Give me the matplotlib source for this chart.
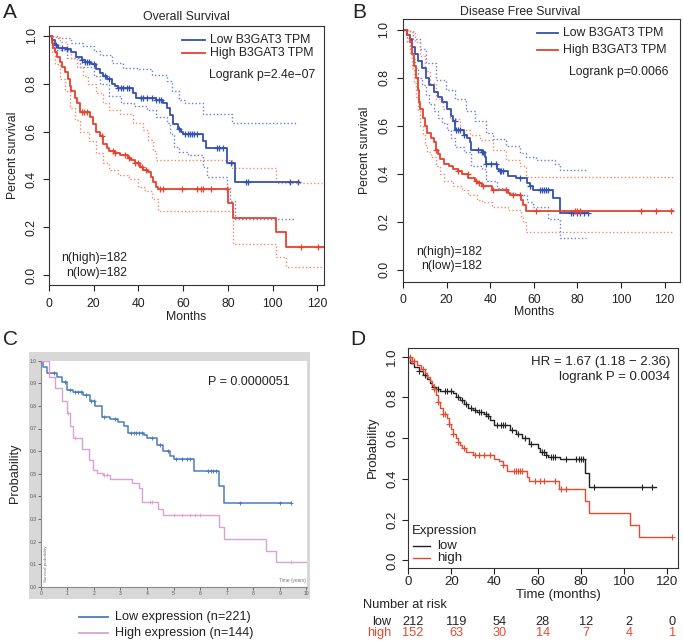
import numpy as np
import matplotlib
matplotlib.use("Agg")
import matplotlib.pyplot as plt
from matplotlib.lines import Line2D
from matplotlib.patches import Rectangle

plt.rcParams['font.family'] = ['Liberation Sans', 'DejaVu Sans']

W, H = 683, 643

# ---------------- A: Overall survival (months) ----------------
a_low_t = [0, 1.2, 2.7, 4, 8, 10, 12, 14.6, 16, 19, 21, 23, 24, 26, 28, 29.5, 31, 37.7, 39, 48, 51, 53,
           54, 55.5, 57.8, 59, 60, 69, 70.4, 79.6, 83]
a_low_s = [1.0, 0.98, 0.96, 0.95, 0.945, 0.93, 0.91, 0.90, 0.89, 0.88, 0.86, 0.845, 0.83, 0.82, 0.80, 0.79,
           0.78, 0.76, 0.74, 0.73, 0.72, 0.70, 0.67, 0.63, 0.61, 0.60, 0.59, 0.56, 0.53, 0.47, 0.39]
a_low_end = 112
a_low_cens = [3, 6, 8, 14.6, 16, 17, 18, 20, 25, 27, 31, 32, 33, 35, 36, 41, 42, 44, 46, 48, 49, 50, 58,
              61, 62, 63, 64, 65, 66, 75, 76, 78, 81.6, 88.3, 89, 107.6, 111.4]
a_low_hi_t = [0, 4, 10, 15, 20, 23, 28, 33, 40, 46, 53, 55, 58, 61, 69, 82]
a_low_hi_s = [1.0, 0.99, 0.97, 0.955, 0.935, 0.92, 0.885, 0.864, 0.86, 0.836, 0.81, 0.77, 0.73, 0.717,
              0.675, 0.634]
a_low_lo_t = [0, 1.2, 2.7, 8, 14, 20, 23, 27, 32, 38, 44, 48, 53, 54, 56, 58, 62, 69, 70.5, 79.5, 81, 83]
a_low_lo_s = [1.0, 0.97, 0.94, 0.905, 0.87, 0.83, 0.80, 0.75, 0.717, 0.706, 0.69, 0.66, 0.634, 0.59,
              0.536, 0.515, 0.50, 0.45, 0.41, 0.37, 0.31, 0.237]

a_high_t = [0, 1.2, 2, 2.7, 3.5, 5, 6, 7, 8.6, 9.4, 10, 11.6, 12.4, 13.8, 18.3, 19.8, 21, 22.8, 24, 25.8,
            27, 29.5, 31.7, 35.4, 36.8, 38.4, 40.6, 42, 44.4, 45.8, 46.6, 48, 48.8, 80.1, 82.3, 101.7, 105.9]
a_high_s = [1.0, 0.97, 0.95, 0.93, 0.91, 0.89, 0.87, 0.85, 0.82, 0.79, 0.77, 0.74, 0.72, 0.68, 0.66, 0.63,
            0.60, 0.58, 0.55, 0.53, 0.52, 0.51, 0.50, 0.49, 0.48, 0.47, 0.45, 0.44, 0.43, 0.41, 0.39, 0.37,
            0.36, 0.30, 0.24, 0.18, 0.12]
a_high_end = 123
a_high_cens = [14.6, 15.5, 16.8, 23.5, 28.7, 29.5, 34, 36, 38.5, 40, 41.5, 43.6, 49.5, 51, 59.3, 66, 68,
               69, 72.6, 79.4, 112.8, 120.3]
a_high_hi_t = [0, 2, 5, 8, 10, 12.4, 15.3, 17.6, 21, 24, 27, 31.7, 37.7, 42, 44.4, 46.6, 48, 82, 101.7]
a_high_hi_s = [1.0, 0.995, 0.975, 0.94, 0.905, 0.87, 0.83, 0.80, 0.76, 0.717, 0.69, 0.675, 0.634, 0.606,
               0.564, 0.52, 0.48, 0.446, 0.386]
a_high_lo_t = [0, 1.2, 2.7, 5, 7, 9.4, 11.6, 13.8, 18, 21, 24, 27, 31, 36, 40, 43, 46, 48.8, 82.3, 101.7,
               105.9]
a_high_lo_s = [1.0, 0.93, 0.88, 0.82, 0.77, 0.70, 0.65, 0.60, 0.56, 0.51, 0.47, 0.44, 0.42, 0.40, 0.37,
               0.35, 0.32, 0.27, 0.13, 0.077, 0.035]

# ---------------- B: Disease free survival (months) ----------------
b_low_t = [0, 2, 3, 4, 5.5, 7, 8.5, 10.5, 12, 14, 16, 18, 20, 22, 23, 24, 28, 29.5, 30.5, 31, 36, 37.5,
           38, 43, 44, 48, 52, 57, 58, 59.5, 68.8, 72]
b_low_s = [1.0, 0.98, 0.96, 0.93, 0.90, 0.87, 0.84, 0.80, 0.77, 0.74, 0.72, 0.70, 0.67, 0.64, 0.62, 0.58,
           0.56, 0.55, 0.53, 0.50, 0.49, 0.47, 0.44, 0.42, 0.41, 0.39, 0.38, 0.36, 0.35, 0.33, 0.30, 0.235]
b_low_end = 85
b_low_cens = [23.7, 24.5, 25.3, 26, 28, 34.4, 36, 36.7, 38.2, 40.5, 42.8, 44.3, 45, 45.9, 53.5, 58, 62.7,
              63.5, 64.5, 65.5, 66.5, 77, 78, 80, 81, 82.8, 84.9]
b_low_hi_t = [0, 2.3, 4.6, 7.6, 10.7, 15.3, 19.9, 23.7, 29, 32.9, 38.2, 41.3, 47.4, 53.5, 56.6, 61.2,
              69.6, 72]
b_low_hi_s = [1.0, 0.996, 0.96, 0.92, 0.86, 0.79, 0.75, 0.71, 0.66, 0.62, 0.57, 0.545, 0.514, 0.486, 0.47,
              0.458, 0.44, 0.416]
b_low_lo_t = [0, 2, 3, 4, 5.5, 7, 8.5, 10.5, 12, 14, 16, 18, 20, 22, 24, 28, 31, 36, 38, 43, 48, 52, 57,
              59.5, 66.5, 72]
b_low_lo_s = [1.0, 0.95, 0.92, 0.88, 0.84, 0.80, 0.77, 0.73, 0.69, 0.66, 0.63, 0.61, 0.58, 0.55, 0.51,
              0.49, 0.43, 0.42, 0.37, 0.34, 0.32, 0.31, 0.28, 0.26, 0.21, 0.13]

b_high_t = [0, 2, 3, 4, 5, 6, 7, 7.5, 8, 9, 10, 11, 13, 14, 15, 16, 17, 19, 21, 23, 25, 27, 30, 33, 34,
            36, 41, 48, 49, 54, 55, 56.5]
b_high_s = [1.0, 0.98, 0.95, 0.90, 0.85, 0.80, 0.75, 0.70, 0.67, 0.63, 0.60, 0.57, 0.55, 0.53, 0.50, 0.48,
            0.46, 0.44, 0.43, 0.42, 0.41, 0.40, 0.38, 0.37, 0.36, 0.35, 0.33, 0.32, 0.31, 0.29, 0.27, 0.245]
b_high_end = 124
b_high_cens = [15.3, 25.2, 29.8, 33.6, 35, 36.7, 41.3, 47.4, 50.5, 53.5, 61.2, 78.7, 80, 81, 109.3,
               116.2, 123]
b_high_hi_t = [0, 3, 5.4, 7.6, 10, 12.2, 15.3, 18.3, 21.4, 26, 30.6, 35.2, 41.3, 47.4, 53.5, 56.6]
b_high_hi_s = [1.0, 0.99, 0.947, 0.89, 0.83, 0.78, 0.71, 0.67, 0.626, 0.584, 0.563, 0.542, 0.50, 0.458,
               0.43, 0.388]
b_high_lo_t = [0, 2, 3, 4, 5, 6, 7, 8, 9, 10, 11, 13, 15, 17, 19, 23, 27, 30, 34, 36, 41, 48, 54, 55,
               56.5]
b_high_lo_s = [1.0, 0.95, 0.90, 0.84, 0.78, 0.72, 0.66, 0.60, 0.56, 0.52, 0.49, 0.47, 0.43, 0.40, 0.37,
               0.35, 0.33, 0.31, 0.29, 0.28, 0.26, 0.25, 0.22, 0.20, 0.155]

# ---------------- C: survival probability (years) ----------------
c_low_t = [0, 0.1, 0.23, 0.6, 0.8, 1.0, 1.23, 1.6, 1.86, 2.05, 2.3, 2.6, 2.9, 3.14, 3.3, 3.87, 4.0, 4.37,
           4.6, 4.87, 5.0, 5.78, 6.7, 6.88]
c_low_s = [1.0, 0.97, 0.944, 0.926, 0.907, 0.87, 0.863, 0.85, 0.82, 0.80, 0.75, 0.74, 0.73, 0.71, 0.68,
           0.67, 0.656, 0.627, 0.60, 0.58, 0.563, 0.51, 0.445, 0.37]
c_low_end = 9.4
c_low_cens = [0.3, 0.5, 0.9, 1.1, 1.3, 1.4, 1.5, 1.7, 1.9, 2.0, 2.4, 2.8, 3.4, 3.5, 3.6, 3.7, 3.8, 4.2,
              4.5, 4.8, 5.1, 5.3, 5.5, 5.6, 6.3, 6.4, 6.5, 6.6, 7.5, 9.0, 9.4]
c_high_t = [0, 0.3, 0.54, 0.8, 1.0, 1.1, 1.23, 1.54, 1.8, 1.98, 2.1, 2.36, 2.6, 3.43, 3.7, 3.8, 4.43,
            4.62, 6.7, 6.9, 8.48, 8.87]
c_high_s = [1.0, 0.93, 0.88, 0.82, 0.77, 0.71, 0.66, 0.61, 0.56, 0.516, 0.505, 0.494, 0.475, 0.457, 0.438,
            0.376, 0.344, 0.317, 0.265, 0.21, 0.16, 0.11]
c_high_end = 10
c_high_cens = [1.02, 1.3, 2.4, 2.5, 4.1, 4.2, 5.0, 5.3, 5.6, 5.8, 6.0, 9.4]
c_labels = ['Low expression (n=221)', 'High expression (n=144)']

# ---------------- D: KM plotter (months) ----------------
d_low_t = [0, 1, 3, 5, 7, 9, 10, 11, 13, 15, 21, 22, 24, 26, 28, 30, 32, 35, 37, 38, 40, 47, 50, 53, 56,
           60, 61, 64, 65, 70.5, 82, 83.7]
d_low_s = [1.0, 0.97, 0.95, 0.93, 0.91, 0.89, 0.87, 0.85, 0.84, 0.83, 0.82, 0.80, 0.79, 0.77, 0.75, 0.74,
           0.73, 0.72, 0.71, 0.69, 0.665, 0.64, 0.62, 0.60, 0.57, 0.55, 0.53, 0.52, 0.51, 0.50, 0.43, 0.36]
d_low_end = 115
d_low_cens = [5, 8, 12, 14, 17, 18, 20, 23, 25, 27, 29, 31, 33, 34, 36, 37, 41, 43, 44, 45, 48, 51, 54,
              57, 62, 63, 64, 66, 67, 68, 73, 78, 79, 80, 81, 86, 108.4, 113]
d_high_t = [0, 2, 4, 6, 8, 9, 10, 11, 12, 13, 14, 15, 16, 18, 19, 20, 21, 22, 23, 24, 25, 27, 30, 40, 42,
            44, 46, 55, 56, 70, 82, 83.7, 102.7, 107]
d_high_s = [1.0, 0.98, 0.96, 0.94, 0.92, 0.90, 0.88, 0.86, 0.84, 0.81, 0.78, 0.75, 0.72, 0.70, 0.67,
            0.645, 0.62, 0.60, 0.58, 0.565, 0.55, 0.53, 0.52, 0.50, 0.49, 0.47, 0.44, 0.41, 0.39, 0.35,
            0.29, 0.235, 0.175, 0.115]
d_high_end = 122
d_high_cens = [1, 2, 3, 7, 12, 14, 16, 17, 19, 21, 23, 26, 31, 33, 35, 38, 44, 49, 50, 51, 52, 53, 59, 61,
               63, 68, 71, 73, 122]
risk_times = [0, 20, 40, 60, 80, 100, 120]
risk_low = [212, 119, 54, 28, 12, 2, 0]
risk_high = [152, 63, 30, 14, 7, 4, 1]

BLUE = '#3451b2'
RED = '#e8412c'
BLUE_CI = '#6a7fd0'
RED_CI = '#f28a6a'
C_BLUE = '#4a7cc0'
C_PINK = '#d9a3d3'
D_RED = '#e8492f'

fig = plt.figure(figsize=(W / 100, H / 100), dpi=100)


def px_box(l, t, r, b):
    return [l / W, 1 - b / H, (r - l) / W, (b - t) / H]


def ftext(x, y, s, **kw):
    fig.text(x / W, 1 - y / H, s, **kw)


def fline(x0, x1, y, color, lw=1.3):
    fig.add_artist(Line2D([x0 / W, x1 / W], [1 - y / H, 1 - y / H], color=color, lw=lw))


def step_at(t, s, x):
    idx = np.searchsorted(t, x, side='right') - 1
    return np.asarray(s)[idx]


def km(ax, t, s, end, color, lw=1.3, ls='-', cens=None, ms=5, mew=0.9):
    ax.plot(list(t) + [end], list(s) + [s[-1]], drawstyle='steps-post', color=color, lw=lw, ls=ls)
    if cens is not None:
        ax.plot(cens, step_at(t, s, cens), ls='none', marker='+', ms=ms, mew=mew, color=color)


def r_axes(ax, xlim, ylim, fs, padx, pady):
    ax.set_xlim(xlim)
    ax.set_ylim(ylim)
    ax.set_xticks([0, 20, 40, 60, 80, 100, 120])
    yt = [0, 0.2, 0.4, 0.6, 0.8, 1.0]
    ax.set_yticks(yt)
    ax.set_yticklabels([f'{v:.1f}' for v in yt], rotation=90, va='center')
    ax.tick_params(direction='out', length=4, width=0.8, labelsize=fs, colors='#222')
    ax.tick_params(axis='x', pad=padx)
    ax.tick_params(axis='y', pad=pady)
    for sp in ax.spines.values():
        sp.set_linewidth(0.8)
        sp.set_color('#333')


dots = (0, (1, 1.6))

# ---- panel A ----
axA = fig.add_axes(px_box(49, 26, 324, 285))
km(axA, a_low_hi_t, a_low_hi_s, 111, BLUE_CI, lw=1.0, ls=dots)
km(axA, a_low_lo_t, a_low_lo_s, 110, BLUE_CI, lw=1.0, ls=dots)
km(axA, a_high_hi_t, a_high_hi_s, 122, RED_CI, lw=1.0, ls=dots)
km(axA, a_high_lo_t, a_high_lo_s, 122, RED_CI, lw=1.0, ls=dots)
km(axA, a_low_t, a_low_s, a_low_end, BLUE, cens=a_low_cens)
km(axA, a_high_t, a_high_s, a_high_end, RED, cens=a_high_cens)
r_axes(axA, (0, 123), (-0.04, 1.04), 8.8, 5.5, 4)
ftext(186, 17, 'Overall Survival', ha='center', va='center', fontsize=8.8, color='#222')
ftext(13, 155, 'Percent survival', ha='center', va='center', rotation=90, fontsize=8.8, color='#222')
ftext(186, 317, 'Months', ha='center', va='center', fontsize=8.8, color='#222')
fline(182, 205, 40, BLUE)
fline(182, 205, 53, RED)
ftext(210, 40, 'Low B3GAT3 TPM', ha='left', va='center', fontsize=8.8, color='#222')
ftext(210, 53, 'High B3GAT3 TPM', ha='left', va='center', fontsize=8.8, color='#222')
ftext(315, 75, 'Logrank p=2.4e\u221207', ha='right', va='center', fontsize=8.8, color='#222')
ftext(127, 258, 'n(high)=182', ha='right', va='center', fontsize=8.8, color='#222')
ftext(127, 273, 'n(low)=182', ha='right', va='center', fontsize=8.8, color='#222')
ftext(10, 12, 'A', ha='center', va='center', fontsize=15, color='#222')

# ---- panel B ----
axB = fig.add_axes(px_box(403, 19, 680, 282))
km(axB, b_low_hi_t, b_low_hi_s, 84, BLUE_CI, lw=1.0, ls=dots)
km(axB, b_low_lo_t, b_low_lo_s, 84, BLUE_CI, lw=1.0, ls=dots)
km(axB, b_high_hi_t, b_high_hi_s, 124, RED_CI, lw=1.0, ls=dots)
km(axB, b_high_lo_t, b_high_lo_s, 124, RED_CI, lw=1.0, ls=dots)
km(axB, b_low_t, b_low_s, b_low_end, BLUE, cens=b_low_cens)
km(axB, b_high_t, b_high_s, b_high_end, RED, cens=b_high_cens)
r_axes(axB, (0, 127), (-0.052, 1.045), 8.8, 4.5, 5)
ftext(520, 12, 'Disease Free Survival', ha='center', va='center', fontsize=8.8, color='#222')
ftext(365, 150, 'Percent survival', ha='center', va='center', rotation=90, fontsize=8.8, color='#222')
ftext(534, 312, 'Months', ha='center', va='center', fontsize=8.8, color='#222')
fline(537, 558, 33, BLUE)
fline(537, 558, 50, RED)
ftext(563, 33, 'Low B3GAT3 TPM', ha='left', va='center', fontsize=8.8, color='#222')
ftext(563, 50, 'High B3GAT3 TPM', ha='left', va='center', fontsize=8.8, color='#222')
ftext(668, 72, 'Logrank p=0.0066', ha='right', va='center', fontsize=8.8, color='#222')
ftext(482, 252, 'n(high)=182', ha='right', va='center', fontsize=8.8, color='#222')
ftext(482, 266, 'n(low)=182', ha='right', va='center', fontsize=8.8, color='#222')
ftext(359, 12, 'B', ha='center', va='center', fontsize=15, color='#222')

# ---- panel C ----
fig.add_artist(Rectangle((29 / W, 1 - 599 / H), 281 / W, 247 / H, transform=fig.transFigure,
                         facecolor='#d8d8d8', edgecolor='none', zorder=0))
axC = fig.add_axes(px_box(40.7, 360.7, 307, 586.7))
axC.set_facecolor('white')
km(axC, c_low_t, c_low_s, c_low_end, C_BLUE, lw=1.1, cens=c_low_cens, ms=3, mew=0.7)
km(axC, c_high_t, c_high_s, c_high_end, C_PINK, lw=1.0, cens=c_high_cens, ms=3, mew=0.6)
axC.set_xlim(0, 10.02)
axC.set_ylim(0, 1.0)
axC.set_xticks(range(11))
axC.set_yticks(np.arange(0, 1.01, 0.1))
axC.set_yticklabels([f'{v:.1f}' for v in np.arange(0, 1.01, 0.1)])
axC.tick_params(direction='out', length=2, width=0.6, labelsize=3.6, colors='#555', pad=1)
for k in ['top', 'right']:
    axC.spines[k].set_visible(False)
for k in ['left', 'bottom']:
    axC.spines[k].set_linewidth(0.8)
    axC.spines[k].set_color('#8a8a8a')
axC.text(0.012, 0.02, 'Survival probability', transform=axC.transAxes, rotation=90, fontsize=3.2,
         color='#777', ha='left', va='bottom')
axC.text(0.995, 0.015, 'Time (years)', transform=axC.transAxes, fontsize=3.4, color='#777',
         ha='right', va='bottom')
ftext(290, 382, 'P = 0.0000051', ha='right', va='center', fontsize=9, color='#222')
ftext(15, 473, 'Probability', ha='center', va='center', rotation=90, fontsize=9.2, color='#222')
fline(79, 108, 617, C_BLUE, lw=1.3)
fline(79, 108, 633, C_PINK, lw=1.3)
ftext(115, 617, c_labels[0], ha='left', va='center', fontsize=9.1, color='#222')
ftext(115, 633, c_labels[1], ha='left', va='center', fontsize=9.1, color='#222')
ftext(10, 340, 'C', ha='center', va='center', fontsize=15, color='#222')

# ---- panel D ----
axD = fig.add_axes(px_box(408, 348, 678, 568))
km(axD, d_low_t, d_low_s, d_low_end, '#222222', lw=1.0, cens=d_low_cens, ms=5, mew=0.8)
km(axD, d_high_t, d_high_s, d_high_end, D_RED, lw=1.0, cens=d_high_cens, ms=5, mew=0.8)
r_axes(axD, (0, 125), (-0.037, 1.043), 9.5, 1.5, 3)
ftext(558, 595, 'Time (months)', ha='center', va='center', fontsize=9.5, color='#222')
ftext(373, 447, 'Probability', ha='center', va='center', rotation=90, fontsize=9.5, color='#222')
ftext(670, 362, 'HR = 1.67 (1.18 \u2212 2.36)', ha='right', va='center', fontsize=9.5, color='#222')
ftext(670, 377, 'logrank P = 0.0034', ha='right', va='center', fontsize=9.5, color='#222')
ftext(412, 531, 'Expression', ha='left', va='center', fontsize=9.5, color='#222')
fline(413, 430, 546, '#222222', lw=1.0)
fline(413, 430, 558, D_RED, lw=1.0)
ftext(437, 546, 'low', ha='left', va='center', fontsize=9.5, color='#222')
ftext(437, 558, 'high', ha='left', va='center', fontsize=9.5, color='#222')
ftext(363, 605, 'Number at risk', ha='left', va='center', fontsize=9.3, color='#222')
ftext(391, 622, 'low', ha='right', va='center', fontsize=9.2, color='#222')
ftext(391, 633, 'high', ha='right', va='center', fontsize=9.2, color=D_RED)
for t, nl, nh in zip(risk_times, risk_low, risk_high):
    xp = axD.transData.transform((t, 0))[0]
    xf = xp / fig.bbox.width
    fig.text(xf + 5 / W, 1 - 622 / H, str(nl), ha='center', va='center', fontsize=9.2, color='#222')
    fig.text(xf + 5 / W, 1 - 633 / H, str(nh), ha='center', va='center', fontsize=9.2, color=D_RED)
ftext(358, 340, 'D', ha='center', va='center', fontsize=15, color='#222')

fig.savefig('out.png', dpi=100)
